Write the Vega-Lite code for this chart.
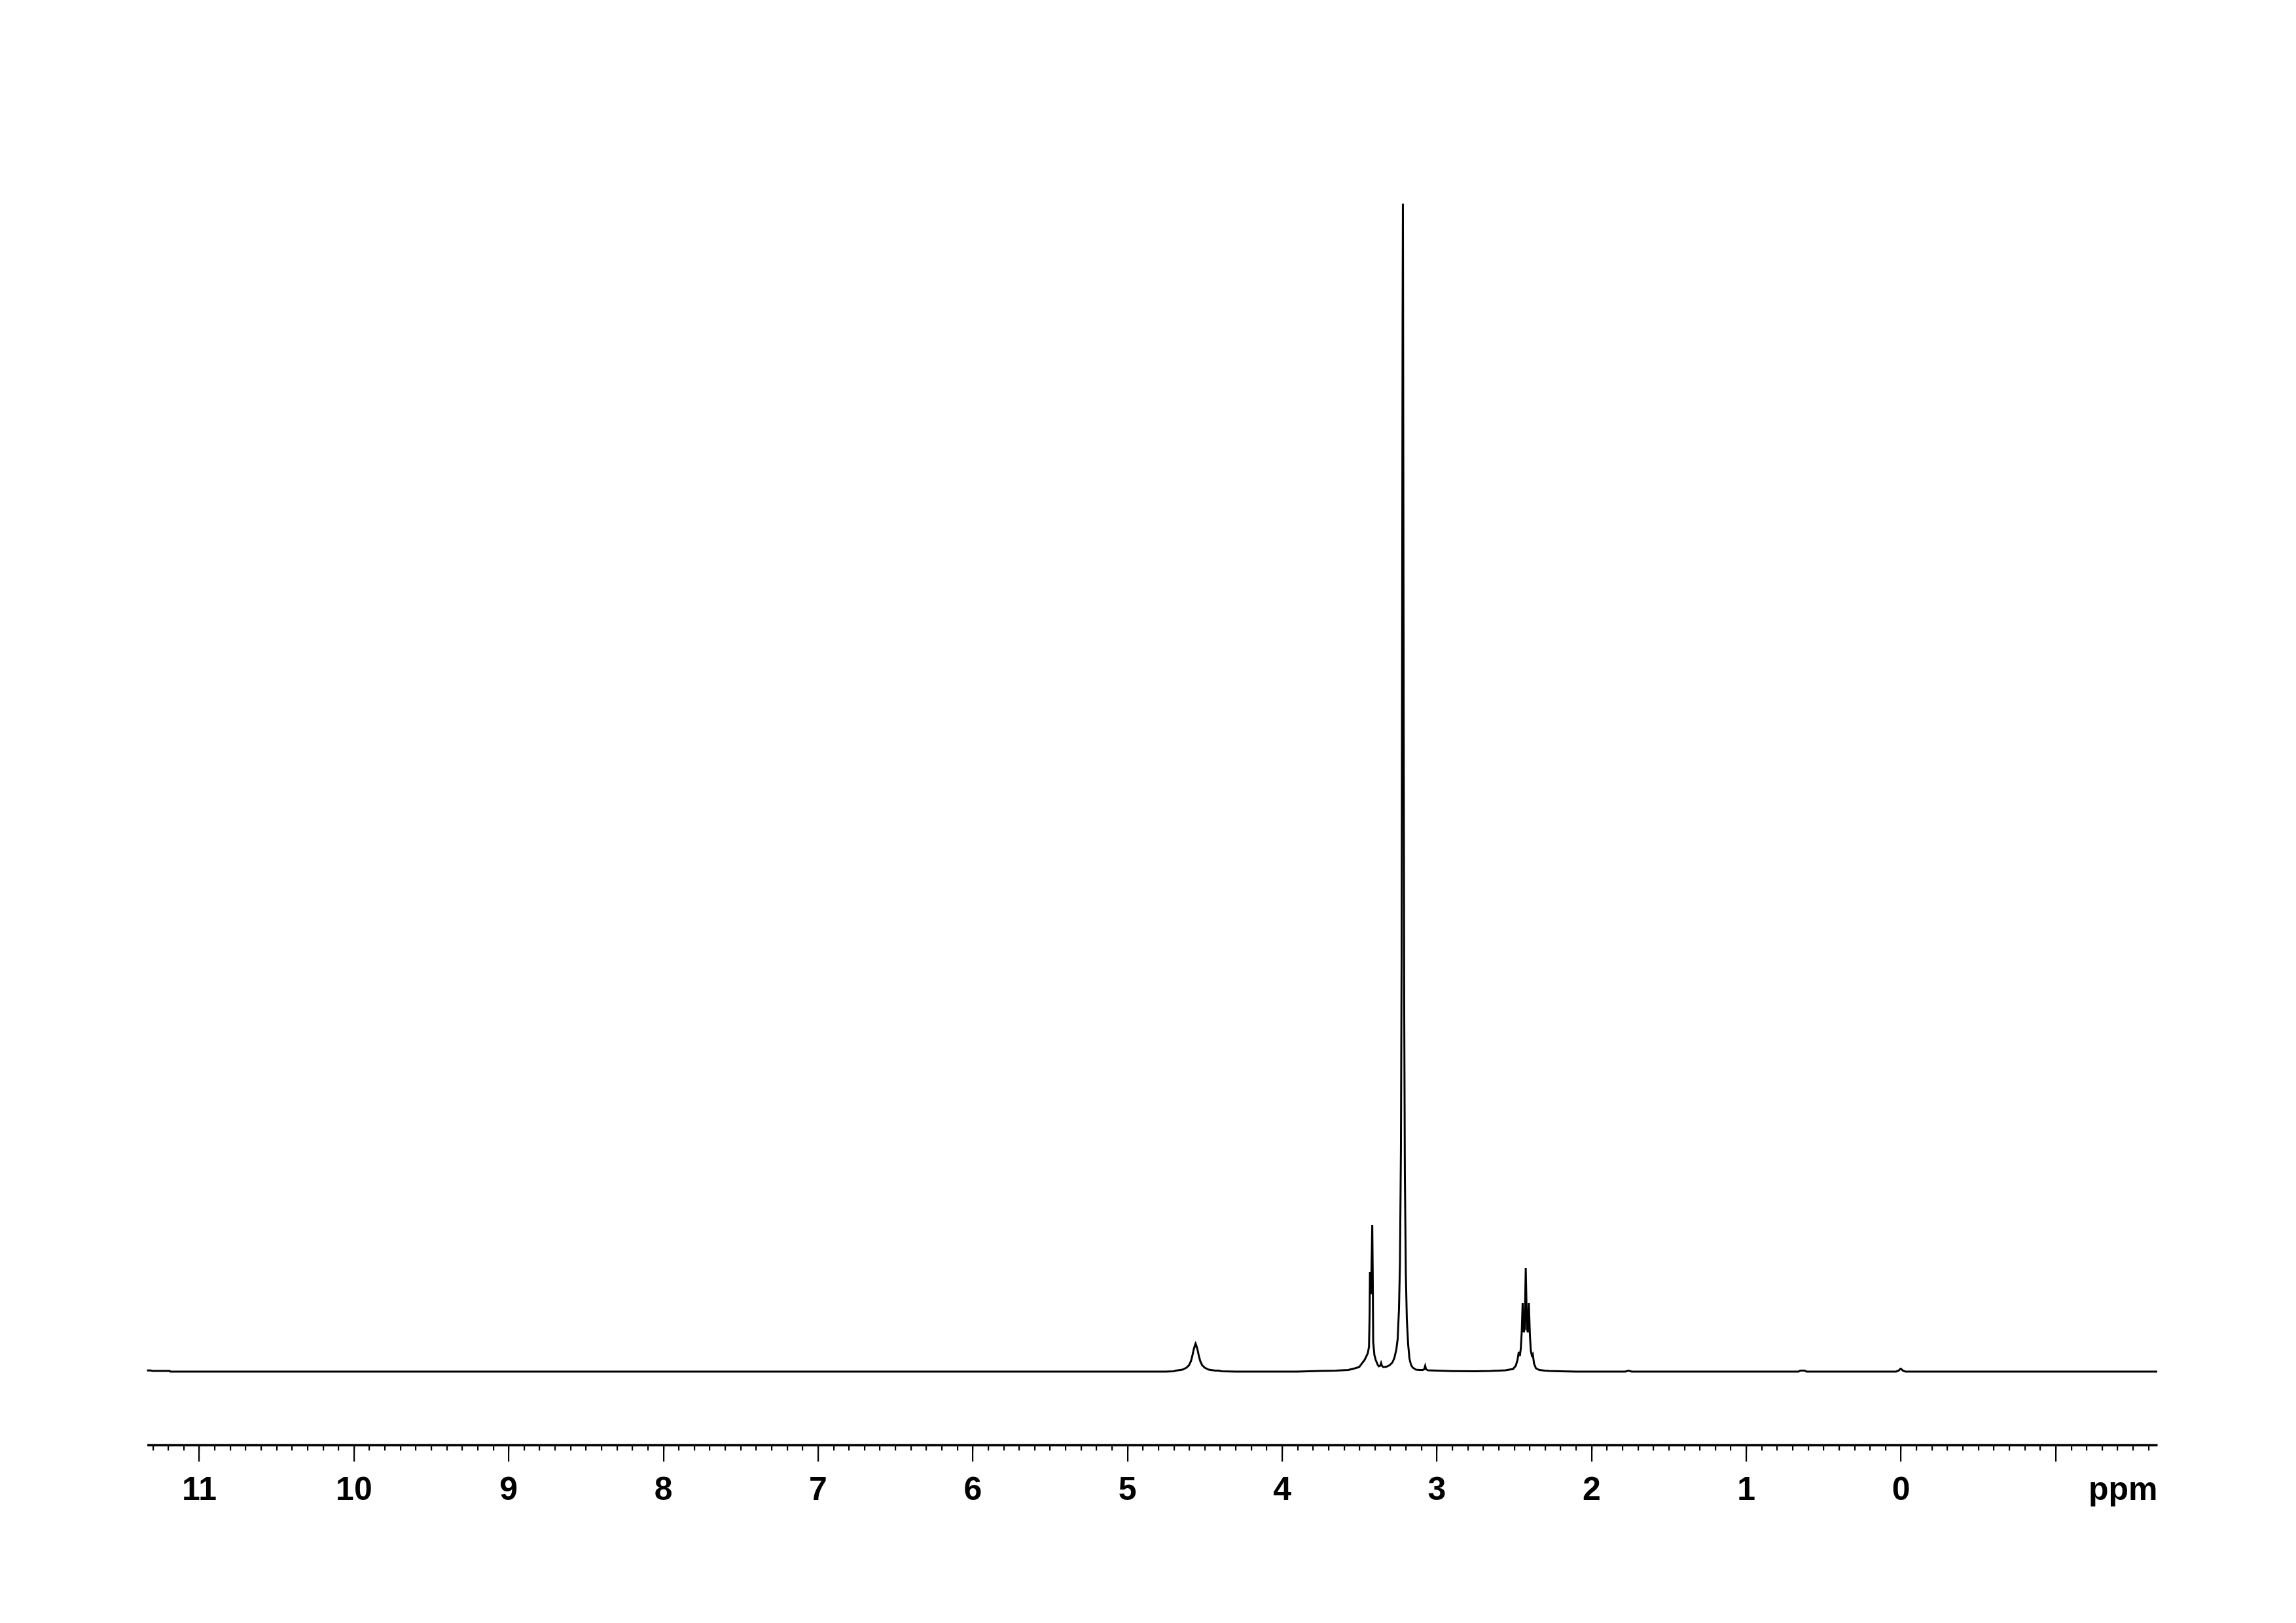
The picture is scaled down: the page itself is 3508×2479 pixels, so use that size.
{
  "$schema": "https://vega.github.io/schema/vega-lite/v6.json",
  "autosize": {"type": "none"},
  "padding": {"left": 224.6, "top": 311, "right": 212, "bottom": 272},
  "width": 3071.4,
  "height": 1896,
  "background": "white",
  "config": {"view": {"stroke": null}},
  "data": {"values": [
    {"ppm": 11.336, "intensity": 1.7},
    {"ppm": 11.313, "intensity": 1.7},
    {"ppm": 11.30, "intensity": 1.0},
    {"ppm": 11.19, "intensity": 1.0},
    {"ppm": 11.185, "intensity": 0},
    {"ppm": 4.75, "intensity": 0},
    {"ppm": 4.70, "intensity": 0.5},
    {"ppm": 4.685, "intensity": 1.5},
    {"ppm": 4.643, "intensity": 3},
    {"ppm": 4.617, "intensity": 6},
    {"ppm": 4.600, "intensity": 10},
    {"ppm": 4.588, "intensity": 16},
    {"ppm": 4.579, "intensity": 24},
    {"ppm": 4.571, "intensity": 33},
    {"ppm": 4.564, "intensity": 39},
    {"ppm": 4.561, "intensity": 41},
    {"ppm": 4.558, "intensity": 37},
    {"ppm": 4.555, "intensity": 41},
    {"ppm": 4.552, "intensity": 39},
    {"ppm": 4.545, "intensity": 33},
    {"ppm": 4.537, "intensity": 24},
    {"ppm": 4.528, "intensity": 16},
    {"ppm": 4.516, "intensity": 10},
    {"ppm": 4.499, "intensity": 6},
    {"ppm": 4.473, "intensity": 3},
    {"ppm": 4.431, "intensity": 1.5},
    {"ppm": 4.41, "intensity": 1.5},
    {"ppm": 4.39, "intensity": 0.5},
    {"ppm": 4.30, "intensity": 0},
    {"ppm": 3.90, "intensity": 0},
    {"ppm": 3.754, "intensity": 1},
    {"ppm": 3.65, "intensity": 1.5},
    {"ppm": 3.571, "intensity": 2.5},
    {"ppm": 3.528, "intensity": 5},
    {"ppm": 3.500, "intensity": 7},
    {"ppm": 3.465, "intensity": 18},
    {"ppm": 3.445, "intensity": 28},
    {"ppm": 3.437, "intensity": 38},
    {"ppm": 3.433, "intensity": 90},
    {"ppm": 3.431, "intensity": 152},
    {"ppm": 3.428, "intensity": 135},
    {"ppm": 3.424, "intensity": 118},
    {"ppm": 3.420, "intensity": 170},
    {"ppm": 3.416, "intensity": 224},
    {"ppm": 3.413, "intensity": 150},
    {"ppm": 3.410, "intensity": 45},
    {"ppm": 3.402, "intensity": 25},
    {"ppm": 3.394, "intensity": 18},
    {"ppm": 3.380, "intensity": 10},
    {"ppm": 3.373, "intensity": 8},
    {"ppm": 3.364, "intensity": 9},
    {"ppm": 3.359, "intensity": 13},
    {"ppm": 3.354, "intensity": 9},
    {"ppm": 3.345, "intensity": 7},
    {"ppm": 3.338, "intensity": 7},
    {"ppm": 3.3238, "intensity": 7.5},
    {"ppm": 3.3026, "intensity": 10},
    {"ppm": 3.2857, "intensity": 14},
    {"ppm": 3.2730, "intensity": 21},
    {"ppm": 3.2603, "intensity": 34},
    {"ppm": 3.2518, "intensity": 50},
    {"ppm": 3.2434, "intensity": 95},
    {"ppm": 3.2370, "intensity": 165},
    {"ppm": 3.2307, "intensity": 340},
    {"ppm": 3.2265, "intensity": 620},
    {"ppm": 3.2231, "intensity": 1100},
    {"ppm": 3.2201, "intensity": 1600},
    {"ppm": 3.2180, "intensity": 1784},
    {"ppm": 3.2159, "intensity": 1500},
    {"ppm": 3.2129, "intensity": 1000},
    {"ppm": 3.2095, "intensity": 560},
    {"ppm": 3.2053, "intensity": 300},
    {"ppm": 3.1990, "intensity": 150},
    {"ppm": 3.1926, "intensity": 80},
    {"ppm": 3.1842, "intensity": 42},
    {"ppm": 3.1757, "intensity": 20},
    {"ppm": 3.1651, "intensity": 10},
    {"ppm": 3.1545, "intensity": 6},
    {"ppm": 3.1334, "intensity": 3},
    {"ppm": 3.1122, "intensity": 2.5},
    {"ppm": 3.090, "intensity": 2.5},
    {"ppm": 3.080, "intensity": 3.5},
    {"ppm": 3.074, "intensity": 8.7},
    {"ppm": 3.068, "intensity": 3.5},
    {"ppm": 3.055, "intensity": 2},
    {"ppm": 3.00, "intensity": 1.5},
    {"ppm": 2.90, "intensity": 0.8},
    {"ppm": 2.75, "intensity": 0.5},
    {"ppm": 2.65, "intensity": 1},
    {"ppm": 2.555, "intensity": 2},
    {"ppm": 2.506, "intensity": 4},
    {"ppm": 2.488, "intensity": 9},
    {"ppm": 2.477, "intensity": 18},
    {"ppm": 2.469, "intensity": 30},
    {"ppm": 2.462, "intensity": 24},
    {"ppm": 2.456, "intensity": 35},
    {"ppm": 2.450, "intensity": 60},
    {"ppm": 2.444, "intensity": 105},
    {"ppm": 2.437, "intensity": 60},
    {"ppm": 2.431, "intensity": 65},
    {"ppm": 2.424, "intensity": 158},
    {"ppm": 2.416, "intensity": 65},
    {"ppm": 2.410, "intensity": 60},
    {"ppm": 2.404, "intensity": 105},
    {"ppm": 2.397, "intensity": 55},
    {"ppm": 2.391, "intensity": 32},
    {"ppm": 2.385, "intensity": 25},
    {"ppm": 2.379, "intensity": 27},
    {"ppm": 2.370, "intensity": 12},
    {"ppm": 2.358, "intensity": 5},
    {"ppm": 2.336, "intensity": 2.5},
    {"ppm": 2.302, "intensity": 1.5},
    {"ppm": 2.272, "intensity": 1},
    {"ppm": 2.20, "intensity": 0.5},
    {"ppm": 2.10, "intensity": 0},
    {"ppm": 1.78, "intensity": 0},
    {"ppm": 1.76, "intensity": 1.5},
    {"ppm": 1.74, "intensity": 0},
    {"ppm": 0.66, "intensity": 0},
    {"ppm": 0.65, "intensity": 1.5},
    {"ppm": 0.62, "intensity": 1.5},
    {"ppm": 0.61, "intensity": 0},
    {"ppm": 0.03, "intensity": 0},
    {"ppm": 0.013, "intensity": 1.5},
    {"ppm": 0.006, "intensity": 3.5},
    {"ppm": 0.0, "intensity": 4.5},
    {"ppm": -0.006, "intensity": 3.5},
    {"ppm": -0.013, "intensity": 1.5},
    {"ppm": -0.03, "intensity": 0},
    {"ppm": -1.658, "intensity": 0}
  ]},
  "layer": [
    {
      "mark": {"type": "line", "color": "black", "strokeWidth": 3},
      "encoding": {
        "x": {
          "field": "ppm",
          "type": "quantitative",
          "scale": {"domain": [-1.658, 11.336], "reverse": true, "nice": false, "zero": false},
          "axis": {
            "orient": "bottom",
            "values": [-1, 0, 1, 2, 3, 4, 5, 6, 7, 8, 9, 10, 11],
            "labelExpr": "datum.value < 0 ? '' : datum.label",
            "grid": false,
            "domain": true,
            "domainColor": "black",
            "domainWidth": 3.5,
            "ticks": true,
            "tickColor": "black",
            "tickWidth": 2.2,
            "tickSize": 25,
            "labelFont": "Liberation Sans, Arial, sans-serif",
            "labelFontWeight": "bold",
            "labelFontSize": 50,
            "labelColor": "black",
            "labelBaseline": "alphabetic",
            "labelPadding": 58,
            "labelFlush": false,
            "labelOverlap": false,
            "title": "ppm",
            "titleAnchor": "end",
            "titleAlign": "right",
            "titleBaseline": "alphabetic",
            "titleX": 3071.4,
            "titleY": 83,
            "titleFont": "Liberation Sans, Arial, sans-serif",
            "titleFontSize": 50,
            "titleFontWeight": "bold",
            "titleColor": "black",
            "titlePadding": 0
          }
        },
        "y": {
          "field": "intensity",
          "type": "quantitative",
          "scale": {"domain": [-112, 1784], "nice": false, "zero": false},
          "axis": null
        }
      }
    },
    {
      "mark": {"type": "line", "strokeOpacity": 0},
      "encoding": {
        "x": {
          "field": "ppm",
          "type": "quantitative",
          "axis": {
            "orient": "bottom",
            "tickCount": 130,
            "labels": false,
            "domain": false,
            "grid": false,
            "ticks": true,
            "tickSize": 8,
            "tickWidth": 2.2,
            "tickColor": "black",
            "title": null
          }
        },
        "y": {"field": "intensity", "type": "quantitative", "axis": null}
      }
    }
  ],
  "resolve": {"axis": {"x": "independent"}}
}
